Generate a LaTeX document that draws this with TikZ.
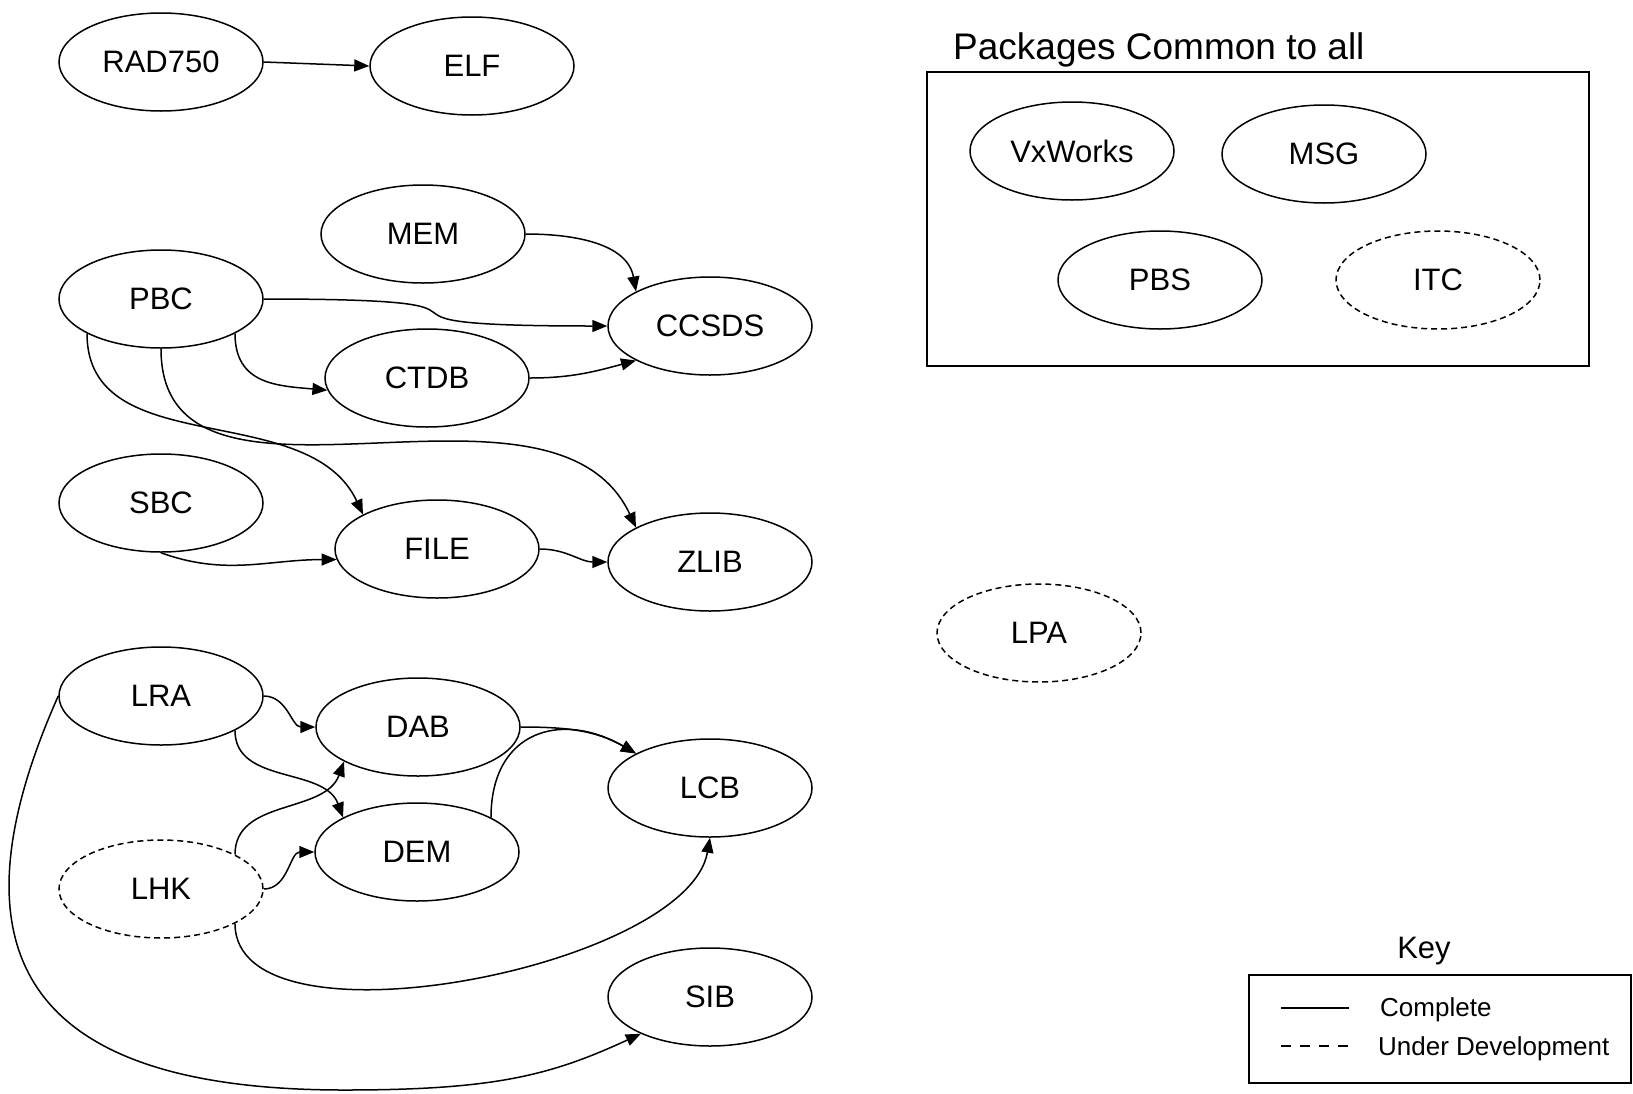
\documentclass[tikz,border=0pt]{standalone}
\usepackage{fontspec}
\setmainfont{Liberation Sans}
\usetikzlibrary{shapes.geometric,arrows.meta}

\tikzset{
  pkg/.style={ellipse, draw, line width=1.5pt, minimum width=204pt, minimum height=98pt, inner sep=0pt, font=\fontsize{31}{37}\selectfont},
  devpkg/.style={pkg, dash pattern=on 6pt off 4pt},
  dep/.style={-{Triangle[length=15pt,width=12pt]}, line width=1.5pt},
  keytext/.style={anchor=base west, inner sep=0pt, font=\fontsize{26}{31}\selectfont},
}

\begin{document}
\begin{tikzpicture}[x=1pt, y=-1pt]
\useasboundingbox (0, 0) rectangle (1633, 1093);

\node[pkg] (RAD750) at (161, 62) {RAD750};
\node[pkg] (ELF) at (472, 66) {ELF};

\node[pkg] (MEM) at (423, 234) {MEM};
\node[pkg] (PBC) at (161, 299) {PBC};
\node[pkg] (CCSDS) at (710, 326) {CCSDS};
\node[pkg] (CTDB) at (427, 378) {CTDB};
\node[pkg] (SBC) at (161, 503) {SBC};
\node[pkg] (FILE) at (437, 549) {FILE};
\node[pkg] (ZLIB) at (710, 562) {ZLIB};

\node[pkg] (LRA) at (161, 696) {LRA};
\node[pkg] (DAB) at (418, 727) {DAB};
\node[pkg] (LCB) at (710, 788) {LCB};
\node[pkg] (DEM) at (417, 852) {DEM};
\node[devpkg] (LHK) at (161, 889) {LHK};
\node[pkg] (SIB) at (710, 997) {SIB};
\coordinate (sibbend) at (344, 1090);

\node[devpkg] (LPA) at (1039, 633) {LPA};

\draw[dep] (RAD750.east) -- (ELF.west);

\draw[dep] (MEM.east) to[out=0, in=100] (CCSDS.155);
\draw[dep] (PBC.east) .. controls +(300, 0) and +(-300, 0) .. (CCSDS.west);
\draw[dep] (PBC.-25) to[out=-90, in=175, looseness=1.2] (CTDB.187);
\draw[dep] (CTDB.east) to[out=0, in=195] (CCSDS.205);
\draw[dep] (PBC.205) to[out=-90, in=115] (FILE.155);
\draw[dep] (PBC.south) to[out=-90, in=115] (ZLIB.155);
\draw[dep] (SBC.south) to[out=-20, in=180] (FILE.186);
\draw[dep] (FILE.east) to[out=0, in=180] (ZLIB.west);

\draw[dep] (LRA.east) to[out=0, in=180] (DAB.west);
\draw[dep] (LRA.-25) to[out=-90, in=110] (DEM.155);
\draw[dep] (LHK.25) to[out=90, in=-110] (DAB.205);
\draw[dep] (LHK.east) to[out=0, in=180] (DEM.west);
\draw[dep] (DAB.east) to[out=0, in=150] (LCB.155);
\draw[dep] (DEM.25) to[out=90, in=150, looseness=1.4] (LCB.155);
\draw[dep] (LHK.-25) to[out=-90, in=-100, looseness=0.7] (LCB.south);
\draw[dep] (LRA.west) .. controls +(-129, 290) and +(-280, 0) .. (sibbend)
  .. controls +(150, 0) and +(-91, 42) .. (SIB.208);

\node[anchor=base west, inner sep=0pt, font=\fontsize{37}{44}\selectfont] (commontitle) at (953, 59) {Packages Common to all};
\draw[line width=1.5pt] (927, 72) rectangle (1589, 366);
\node[pkg] (VxWorks) at (1072, 151) {VxWorks};
\node[pkg] (MSG) at (1324, 154) {MSG};
\node[pkg] (PBS) at (1160, 280) {PBS};
\node[devpkg] (ITC) at (1438, 280) {ITC};

\node[anchor=base, inner sep=0pt, font=\fontsize{31}{37}\selectfont] (keytitle) at (1424, 958) {Key};
\draw[line width=1.5pt] (1249, 975) rectangle (1631, 1083);
\draw[line width=1.5pt] (1281, 1008) -- (1349, 1008);
\node[keytext] (complete) at (1380, 1016) {Complete};
\draw[line width=1.5pt, dash pattern=on 10pt off 9pt] (1281, 1046) -- (1349, 1046);
\node[keytext] (underdev) at (1378, 1055) {Under Development};

\end{tikzpicture}
\end{document}
